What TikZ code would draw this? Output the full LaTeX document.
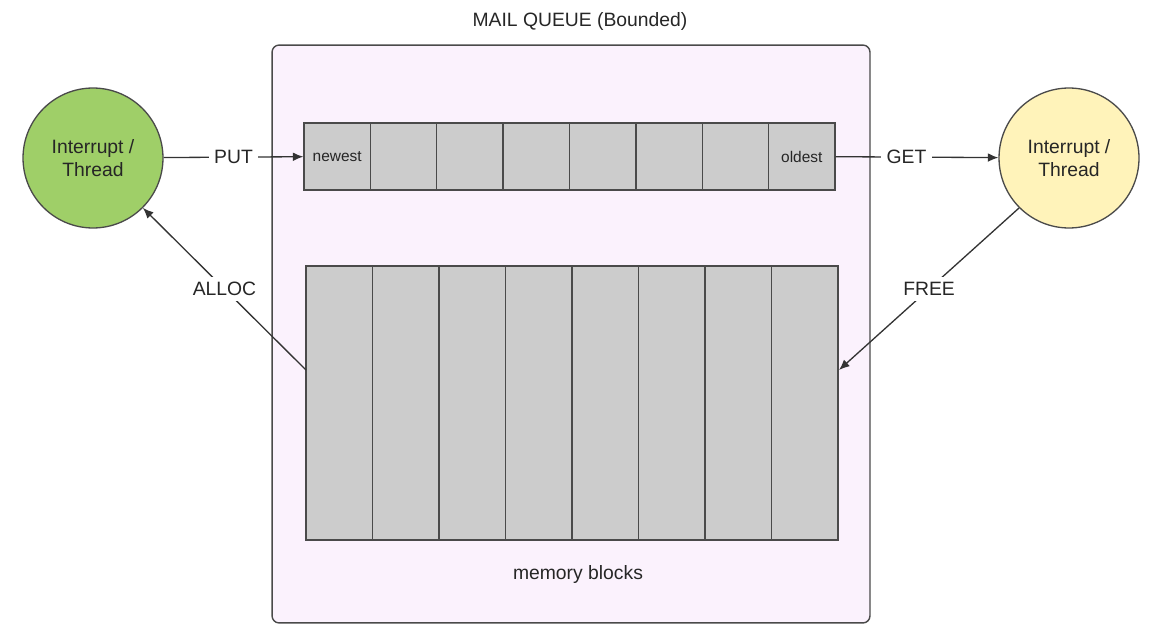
\documentclass[tikz,border=0pt]{standalone}
\usepackage{fontspec}
\setmainfont{Liberation Sans}
\usetikzlibrary{positioning,arrows.meta}

\definecolor{threadgreen}{HTML}{9FCF68}
\definecolor{threadyellow}{HTML}{FFF3BA}
\definecolor{queuebg}{HTML}{FBF2FD}
\definecolor{cellgray}{HTML}{CCCCCC}
\definecolor{edgegray}{HTML}{4A4A4A}

\tikzset{
	thread/.style={circle,draw=edgegray,line width=0.75pt,minimum size=2.8cm,align=center,text=black!85,font=\fontsize{11}{13}\selectfont},
	cell/.style={draw=edgegray,line width=0.75pt,fill=cellgray,minimum width=1.3275cm,minimum height=1.34cm,inner sep=0pt,text=black!85,font=\fontsize{8.8}{10}\selectfont},
	memblock/.style={draw=edgegray,line width=0.75pt,fill=cellgray,minimum width=1.33cm,minimum height=5.48cm,inner sep=0pt},
	tag/.style={fill=white,inner sep=3pt,text=black!85,font=\fontsize{11}{13}\selectfont},
	link/.style={draw=black!80,line width=0.75pt,-{Latex[length=6pt,width=5pt]}}
}

\begin{document}
\begin{tikzpicture}[x=0.02cm,y=-0.02cm]
		
		\useasboundingbox (0,0) rectangle (1165,642);
		
		% the bounded queue
		\node[draw=edgegray,line width=0.8pt,rounded corners=4pt,fill=queuebg,minimum width=11.96cm,minimum height=11.56cm] (queue) at (571,334) {};
		\node[text=black!85,font=\fontsize{11}{13}\selectfont] (title) at (580,22) {MAIL QUEUE (Bounded)};
		
		\node[cell] (q1) at ({304+66.375*0.5},156.5) {newest};
		\foreach \i in {2,...,7}
			\node[cell] (q\i) at ({304+66.375*(\i-0.5)},156.5) {};
		\node[cell] (q8) at ({304+66.375*7.5},156.5) {oldest};
		
		\foreach \i in {1,...,8}
			\node[memblock] (m\i) at ({306+66.5*(\i-0.5)},403) {};
		\node[text=black!85,font=\fontsize{11}{13}\selectfont] (memlabel) at (578,574) {memory blocks};
		
		% producer and consumer
		\node[thread,fill=threadgreen] (lt) at (93,158) {Interrupt /\\Thread};
		\node[thread,fill=threadyellow] (rt) at (1069,158) {Interrupt /\\Thread};
		
		\coordinate (allocfrom) at (306,370);
		\coordinate (freeto) at (839,370);
		
		\draw[link] (lt) -- node[tag]{PUT} (q1);
		\draw[link] (q8) -- node[tag,xshift=-6pt]{GET} (rt);
		\draw[link] (allocfrom) -- node[tag]{ALLOC} (lt.-45);
		\draw[link] (rt.-135) -- node[tag]{FREE} (freeto);
		
	\end{tikzpicture}
\end{document}
